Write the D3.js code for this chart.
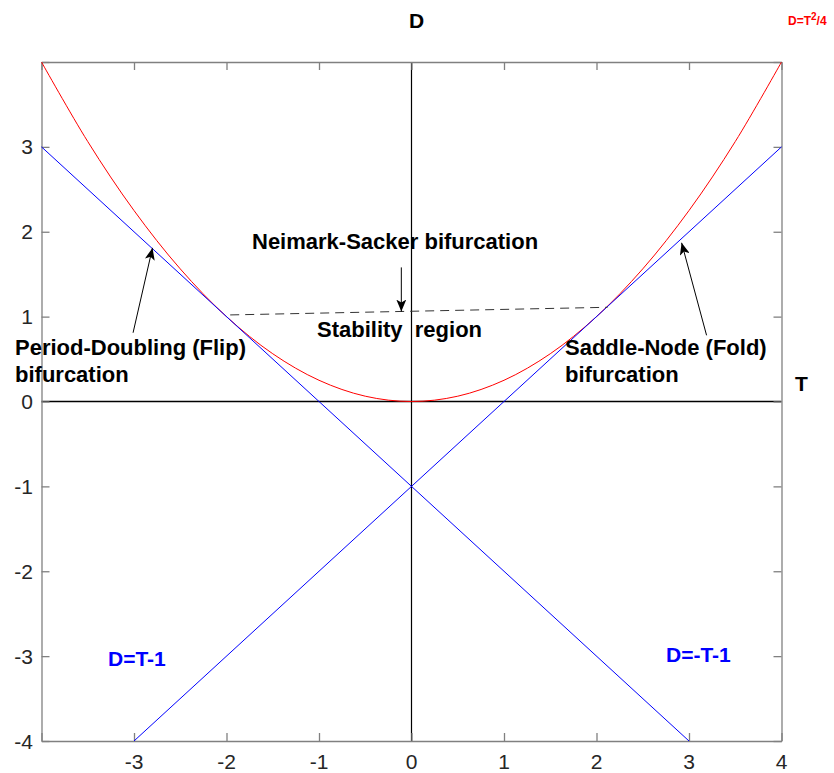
<!DOCTYPE html>
<html>
<head>
<meta charset="utf-8">
<script src="https://cdn.jsdelivr.net/npm/d3@7"></script>
<style>
  body { margin: 0; background: #fff; }
  text { font-family: "Liberation Sans", Arial, sans-serif; }
</style>
</head>
<body>
<svg class="chart" width="834" height="773"></svg>
<script>
// tick values
const tTicks = [-4, -3, -2, -1, 0, 1, 2, 3, 4];
const tLabels = [-3, -2, -1, 0, 1, 2, 3, 4];
const dTicks = [-4, -3, -2, -1, 0, 1, 2, 3, 4];
const dLabels = [-4, -3, -2, -1, 0, 1, 2, 3];

// D = T^2/4 sampled
const parabT = [-4, -3.5, -3, -2.5, -2, -1.5, -1, -0.5, 0, 0.5, 1, 1.5, 2, 2.5, 3, 3.5, 4];
const parabD = [4, 3.0625, 2.25, 1.5625, 1, 0.5625, 0.25, 0.0625, 0, 0.0625, 0.25, 0.5625, 1, 1.5625, 2.25, 3.0625, 4];

// D = -T-1 and D = T-1
const flipT = [-4, 3];
const flipD = [3, -4];
const foldT = [-3, 4];
const foldD = [-4, 3];

// Neimark-Sacker dashed segment
const nsT = [-1.96, 2.12];
const nsD = [1.02, 1.11];

// annotation arrows: [tailT, tailD, tipT, tipD]
const arrows = [
  [-3.01, 0.81, -2.80, 1.81],
  [3.19, 0.78, 2.92, 1.87],
  [-0.11, 1.58, -0.11, 1.06]
];

const svg = d3.select('.chart');
const x = d3.scaleLinear().domain([-4, 4]).range([41.5, 781.5]);
const y = d3.scaleLinear().domain([-4, 4]).range([741, 62]);

const defs = svg.append('defs');
defs.append('marker')
  .attr('id', 'head')
  .attr('viewBox', '0 0 12 10')
  .attr('refX', 12).attr('refY', 5)
  .attr('markerWidth', 12).attr('markerHeight', 10)
  .attr('markerUnits', 'userSpaceOnUse')
  .attr('orient', 'auto')
  .append('path')
  .attr('d', 'M0,0 L12,5 L0,10 L3,5 Z')
  .attr('fill', '#000');

// zero lines
svg.append('line')
  .attr('x1', x(-4)).attr('x2', x(4)).attr('y1', y(0)).attr('y2', y(0))
  .attr('stroke', '#000').attr('stroke-width', 1.5);
svg.append('line')
  .attr('x1', x(0)).attr('x2', x(0)).attr('y1', y(-4)).attr('y2', y(4))
  .attr('stroke', '#000').attr('stroke-width', 1.2);

// axes box with inward ticks
const gray = '#808080';
const axB = svg.append('g').attr('transform', `translate(0,${y(-4)})`)
  .call(d3.axisBottom(x).tickValues(tTicks).tickSizeInner(-8).tickSizeOuter(0).tickFormat(''));
const axT = svg.append('g').attr('transform', `translate(0,${y(4)})`)
  .call(d3.axisTop(x).tickValues(tTicks).tickSizeInner(-8).tickSizeOuter(0).tickFormat(''));
const axL = svg.append('g').attr('transform', `translate(${x(-4)},0)`)
  .call(d3.axisLeft(y).tickValues(dTicks).tickSizeInner(-8).tickSizeOuter(0).tickFormat(''));
const axR = svg.append('g').attr('transform', `translate(${x(4)},0)`)
  .call(d3.axisRight(y).tickValues(dTicks).tickSizeInner(-8).tickSizeOuter(0).tickFormat(''));
[axB, axT, axL, axR].forEach(a => {
  a.selectAll('path, line').attr('stroke', gray).attr('stroke-width', 1.3);
});

// tick labels
svg.append('g').selectAll('text').data(tLabels).enter().append('text')
  .attr('x', d => x(d)).attr('y', 769)
  .attr('text-anchor', 'middle').attr('font-size', 21).attr('fill', '#262626')
  .text(d => d);
svg.append('g').selectAll('text').data(dLabels).enter().append('text')
  .attr('x', 33).attr('y', d => y(d)).attr('dy', '0.36em')
  .attr('text-anchor', 'end').attr('font-size', 21).attr('fill', '#262626')
  .text(d => d);

// curves
const line = d3.line().x(d => x(d[0])).y(d => y(d[1]));
svg.append('path')
  .datum(d3.zip(parabT, parabD))
  .attr('d', line.curve(d3.curveCatmullRom))
  .attr('fill', 'none').attr('stroke', '#ff0000').attr('stroke-width', 1);
line.curve(d3.curveLinear);
svg.append('path')
  .datum(d3.zip(flipT, flipD))
  .attr('d', line)
  .attr('fill', 'none').attr('stroke', '#0000ff').attr('stroke-width', 1);
svg.append('path')
  .datum(d3.zip(foldT, foldD))
  .attr('d', line)
  .attr('fill', 'none').attr('stroke', '#0000ff').attr('stroke-width', 1);
svg.append('path')
  .datum(d3.zip(nsT, nsD))
  .attr('d', line)
  .attr('fill', 'none').attr('stroke', '#333').attr('stroke-width', 1)
  .attr('stroke-dasharray', '9,6');

// arrows
svg.append('g').selectAll('line').data(arrows).enter().append('line')
  .attr('x1', d => x(d[0])).attr('y1', d => y(d[1]))
  .attr('x2', d => x(d[2])).attr('y2', d => y(d[3]))
  .attr('stroke', '#000').attr('stroke-width', 1)
  .attr('marker-end', 'url(#head)');

// labels
const bold = (tx, ty, txt, size, color) => svg.append('text')
  .attr('x', tx).attr('y', ty)
  .attr('font-size', size).attr('font-weight', 'bold').attr('fill', color || '#000')
  .text(txt);

bold(409, 28, 'D', 21);
bold(795, 391, 'T', 21);
bold(252, 249, 'Neimark-Sacker bifurcation', 22);
svg.append('text').attr('x', 317).attr('y', 337)
  .attr('font-size', 22).attr('font-weight', 'bold')
  .attr('xml:space', 'preserve').style('white-space', 'pre')
  .text('Stability  region');
bold(15, 355, 'Period-Doubling (Flip)', 22);
bold(15, 382, 'bifurcation', 22);
bold(565, 355, 'Saddle-Node (Fold)', 22);
bold(565, 382, 'bifurcation', 22);
bold(108, 666, 'D=T-1', 21, '#0000ff');
bold(666, 662, 'D=-T-1', 21, '#0000ff');

const eq = svg.append('text').attr('x', 788).attr('y', 25)
  .attr('font-size', 12).attr('font-weight', 'bold').attr('fill', '#ff0000');
eq.append('tspan').text('D=T');
eq.append('tspan').attr('dy', -5).attr('font-size', 10).text('2');
eq.append('tspan').attr('dy', 5).text('/4');
</script>
</body>
</html>
